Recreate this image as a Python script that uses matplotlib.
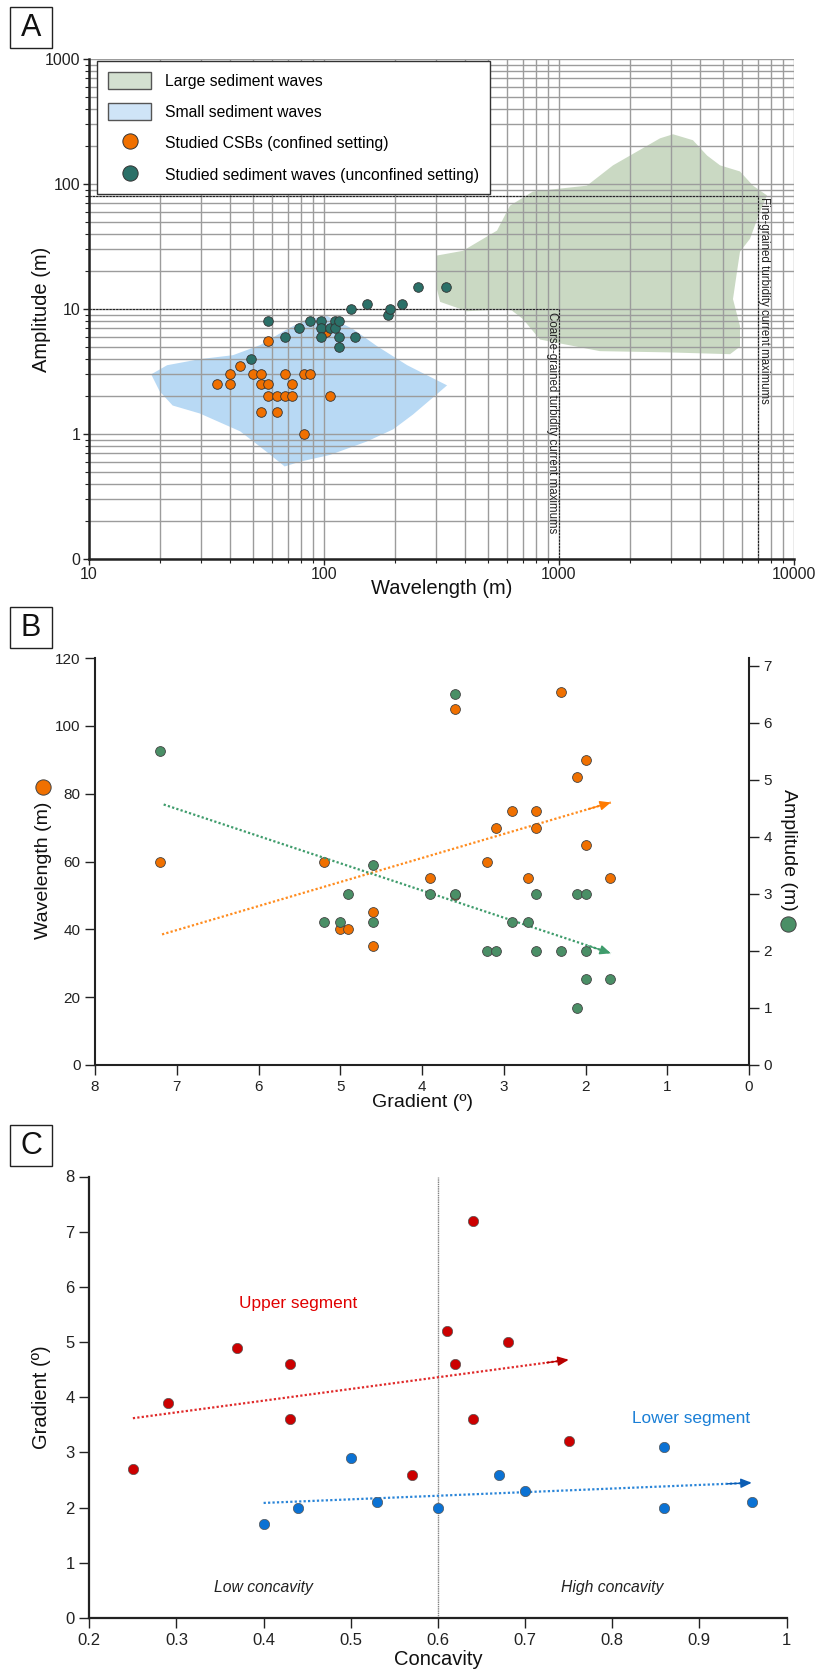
import matplotlib
matplotlib.use('Agg')
import matplotlib.pyplot as plt
import numpy as np
from matplotlib.patches import Polygon, Patch, Rectangle
from matplotlib.lines import Line2D
from matplotlib.ticker import FixedLocator, NullFormatter

plt.rcParams['font.family'] = ['Liberation Sans', 'DejaVu Sans']

# ---------------- panel A data (wavelength m, amplitude m) ----------------
large_wl = [300, 390, 545, 618, 774, 1315, 1698, 2692, 3056, 3715, 4266, 4845, 5891, 6691,
            7678, 7161, 6500, 5891, 5718, 5500, 5891, 5891, 5346, 2884, 1493, 830, 703, 618,
            406, 312, 300]
large_amp = [26.7, 29.2, 42.4, 67, 87, 97, 141, 232, 250, 224, 169, 141, 126, 97,
             81, 60, 36.5, 28.7, 19.8, 12.0, 7.3, 5.0, 4.35, 4.5, 4.6, 5.7, 8.3, 10,
             9.6, 11.4, 15.3]
small_wl = [18.4, 21.5, 29.6, 41, 53.5, 69.7, 84.7, 103, 133, 168, 226, 291, 334, 291, 239,
            197, 152, 106, 79, 68, 57, 44, 29.6, 22.7, 20]
small_amp = [3.0, 3.55, 3.97, 4.27, 5.14, 6.9, 8.3, 8.8, 6.9, 5.05, 3.55, 2.79, 2.45, 1.96, 1.43,
             1.09, 0.87, 0.68, 0.60, 0.55, 0.72, 1.05, 1.46, 1.69, 2.19]
csb_wl = [35, 40, 40, 44, 50, 54, 54, 54, 58, 58, 58, 63, 63, 68, 68, 73, 73, 82, 87, 82, 102, 106]
csb_amp = [2.5, 3, 2.5, 3.5, 3, 3, 2.5, 1.5, 5.5, 2.5, 2, 2, 1.5, 3, 2, 2.5, 2, 3, 3, 1, 6.6, 2]
sw_wl = [49, 58, 68, 78, 87, 97, 97, 97, 106, 111, 111, 116, 116, 116, 135, 130, 153, 187, 191,
         215, 250, 330]
sw_amp = [4, 8, 6, 7, 8, 8, 7, 6, 7, 8, 7, 8, 6, 5, 6, 10, 11, 9, 10, 11, 15, 15]
coarse_max = (1000, 10)
fine_max = (7000, 80)

# ---------------- panel B data (gradient deg) ----------------
b_wl_grad = [7.2, 5.2, 5.0, 4.9, 4.6, 4.6, 3.6, 2.3, 2.0, 2.1, 2.9, 2.6, 3.1, 2.6, 2.0, 3.2,
             3.9, 2.7, 1.7, 3.6]
b_wl = [60, 60, 40, 40, 45, 35, 105, 110, 90, 85, 75, 75, 70, 70, 65, 60, 55, 55, 55, 50]
b_amp_grad = [7.2, 4.6, 4.9, 5.2, 5.0, 4.6, 3.6, 3.9, 3.6, 2.6, 2.1, 2.0, 2.9, 2.7, 3.2, 3.1,
              2.6, 2.3, 2.0, 2.0, 1.7, 2.1]
b_amp = [5.5, 3.5, 3.0, 2.5, 2.5, 2.5, 6.5, 3.0, 3.0, 3.0, 3.0, 3.0, 2.5, 2.5, 2.0, 2.0,
         2.0, 2.0, 2.0, 1.5, 1.5, 1.0]
b_wl_trend = ([7.18, 1.69], [38.5, 77.4])
b_amp_trend = ([7.16, 1.69], [4.57, 1.96])

# ---------------- panel C data ----------------
up_conc = [0.25, 0.29, 0.37, 0.43, 0.43, 0.57, 0.64, 0.61, 0.68, 0.62, 0.64, 0.75]
up_grad = [2.7, 3.9, 4.9, 4.6, 3.6, 2.6, 7.2, 5.2, 5.0, 4.6, 3.6, 3.2]
lo_conc = [0.40, 0.44, 0.50, 0.53, 0.60, 0.67, 0.70, 0.86, 0.86, 0.96]
lo_grad = [1.7, 2.0, 2.9, 2.1, 2.0, 2.6, 2.3, 3.1, 2.0, 2.1]
up_trend = ([0.25, 0.75], [3.62, 4.68])
lo_trend = ([0.40, 0.96], [2.085, 2.45])

W, H = 815, 1673
orange = '#f07000'
teal = '#2b7068'
greenb = '#4a8f66'
red = '#cc0000'
blue = '#0b72d4'
dark = '#222222'

fig = plt.figure(figsize=(W / 100, H / 100), dpi=100)


def axes_px(l, t, r, b):
    return fig.add_axes([l / W, 1 - b / H, (r - l) / W, (b - t) / H])


def letter(txt, l, t, r, b):
    fig.add_artist(Rectangle((l / W, 1 - b / H), (r - l) / W, (b - t) / H,
                             transform=fig.transFigure, fill=False, ec='#222', lw=1))
    fig.text((l + r) / 2 / W, 1 - (t + b) / 2 / H, txt, ha='center', va='center',
             fontsize=22, color='#111')


def trend(ax, xs, ys, color, head):
    ax.plot(xs, ys, linestyle=(0, (1, 1)), color=color, lw=1.6, zorder=2)
    ax.annotate('', xy=(xs[1], ys[1]),
                xytext=(xs[1] - 0.05 * (xs[1] - xs[0]), ys[1] - 0.05 * (ys[1] - ys[0])),
                arrowprops=dict(arrowstyle='-|>,head_length=0.5,head_width=0.22', color=head,
                                lw=1, mutation_scale=13, shrinkA=0, shrinkB=0), zorder=2)


# ======================= A =======================
axA = axes_px(89, 59, 794, 559)
axA.set_xscale('log')
axA.set_yscale('log')
axA.set_xlim(10, 10000)
axA.set_ylim(0.1, 1000)
axA.set_axisbelow(True)
axA.grid(True, which='both', color='#9c9c9c', lw=1.0)
axA.add_patch(Polygon(np.column_stack([large_wl, large_amp]), closed=True, fc='#cad9c3',
                      ec='none', zorder=0.3))
axA.add_patch(Polygon(np.column_stack([small_wl, small_amp]), closed=True, fc='#b8d9f4',
                      ec='none', zorder=0.3))
axA.plot([10, coarse_max[0], coarse_max[0]], [coarse_max[1], coarse_max[1], 0.1],
         ls=(0, (2, 1)), color='#222', lw=0.8, zorder=2)
axA.plot([10, fine_max[0], fine_max[0]], [fine_max[1], fine_max[1], 0.1],
         ls=(0, (2, 1)), color='#222', lw=0.8, zorder=2)
axA.text(930, 9.4, 'Coarse-grained turbidity current maximums', rotation=270,
         ha='center', va='top', fontsize=8.3, color='#222')
axA.text(7450, 78, 'Fine-grained turbidity current maximums', rotation=270,
         ha='center', va='top', fontsize=8.3, color='#222')
axA.scatter(csb_wl, csb_amp, s=48, color=orange, edgecolors='#333', linewidths=0.6, zorder=3)
axA.scatter(sw_wl, sw_amp, s=48, color=teal, edgecolors='#333', linewidths=0.6, zorder=3)
for s in ['top', 'right']:
    axA.spines[s].set_visible(False)
for s in ['left', 'bottom']:
    axA.spines[s].set_linewidth(1.8)
    axA.spines[s].set_color(dark)
axA.yaxis.set_major_locator(FixedLocator([0.1, 1, 10, 100, 1000]))
axA.set_yticklabels(['0', '1', '10', '100', '1000'])
axA.xaxis.set_major_locator(FixedLocator([10, 100, 1000, 10000]))
axA.set_xticklabels(['10', '100', '1000', '10000'])
axA.tick_params(which='major', direction='out', length=4, width=1, pad=2, labelsize=11.5,
                colors=dark)
axA.tick_params(which='minor', direction='out', length=3, width=0.8, colors=dark)
axA.yaxis.set_minor_formatter(NullFormatter())
axA.xaxis.set_minor_formatter(NullFormatter())
axA.set_xlabel('Wavelength (m)', fontsize=14.5, color='#111')
axA.xaxis.set_label_coords(0.5, -0.06)
axA.xaxis.label.set_va('center')
axA.set_ylabel('Amplitude (m)', fontsize=14.5, color='#111')
axA.yaxis.set_label_coords(-0.067, 0.5)
axA.yaxis.label.set_va('center')

handles = [Patch(fc='#d3e0d0', ec='#555', lw=1, label='Large sediment waves'),
           Patch(fc='#cfe4f7', ec='#555', lw=1, label='Small sediment waves'),
           Line2D([], [], ls='none', marker='o', ms=11, mfc=orange, mec='#333', mew=0.7,
                  label='Studied CSBs (confined setting)'),
           Line2D([], [], ls='none', marker='o', ms=11, mfc=teal, mec='#333', mew=0.7,
                  label='Studied sediment waves (unconfined setting)')]
leg = axA.legend(handles=handles, loc='upper left', bbox_to_anchor=(0.012, 0.996),
                 borderaxespad=0, fontsize=11.3, frameon=True, fancybox=False,
                 framealpha=1, edgecolor='#333', handlelength=2.7, handleheight=1.25,
                 handletextpad=0.9, labelspacing=0.94, borderpad=0.7)
leg.get_frame().set_linewidth(1.0)
leg.set_zorder(5)
letter('A', 10, 7, 52, 48)

# ======================= B =======================
axB = axes_px(95, 658, 749, 1065)
axB.set_xlim(8, 0)
axB.set_ylim(0, 120)
axB2 = axB.twinx()
axB2.set_ylim(0, 7.14)
trend(axB, b_wl_trend[0], b_wl_trend[1], '#ff8c1f', '#ff7a00')
axB.scatter(b_wl_grad, b_wl, s=50, color=orange, edgecolors='#444', linewidths=0.6, zorder=3)
trend(axB2, b_amp_trend[0], b_amp_trend[1], '#3f9c6c', '#3f9c6c')
axB2.scatter(b_amp_grad, b_amp, s=50, color=greenb, edgecolors='#444', linewidths=0.6, zorder=3)
axB.set_xticks(np.arange(8, -1, -1))
axB.set_yticks(np.arange(0, 121, 20))
axB2.set_yticks(np.arange(0, 8, 1))
for a in (axB, axB2):
    a.spines['top'].set_visible(False)
    for s in a.spines.values():
        s.set_linewidth(1.5)
        s.set_color(dark)
    a.tick_params(direction='out', length=7, width=1, labelsize=11, colors=dark)
axB.spines['right'].set_visible(False)
axB2.spines['left'].set_visible(False)
axB2.spines['bottom'].set_visible(False)
axB.set_xlabel('Gradient (º)', fontsize=14, color='#111')
axB.xaxis.set_label_coords(0.5, -0.093)
axB.xaxis.label.set_va('center')
axB.set_ylabel('Wavelength (m)', fontsize=14, color='#111')
axB.yaxis.set_label_coords(-0.0795, 0.479)
axB.yaxis.label.set_va('center')
axB2.set_ylabel('Amplitude (m)', fontsize=14, color='#111', rotation=270)
axB2.yaxis.set_label_coords(1.061, 0.528)
axB2.yaxis.label.set_va('center')
axB.plot([-0.0795], [0.683], 'o', ms=11, mfc=orange, mec='#444', mew=0.7,
         transform=axB.transAxes, clip_on=False)
axB2.plot([1.0596], [0.346], 'o', ms=11, mfc=greenb, mec='#444', mew=0.7,
          transform=axB2.transAxes, clip_on=False)
letter('B', 10, 607, 52, 648)

# ======================= C =======================
axC = axes_px(89.3, 1176.5, 786.5, 1618)
axC.set_xlim(0.2, 1.0)
axC.set_ylim(0, 8)
axC.axvline(0.6, color='#808080', ls=(0, (1, 0.6)), lw=1.0, zorder=1)
trend(axC, up_trend[0], up_trend[1], '#e02a2a', '#b80000')
trend(axC, lo_trend[0], lo_trend[1], '#2a85d8', '#0c5db4')
axC.scatter(up_conc, up_grad, s=55, color=red, edgecolors='#555', linewidths=0.5, zorder=3)
axC.scatter(lo_conc, lo_grad, s=55, color=blue, edgecolors='#555', linewidths=0.5, zorder=3)
axC.text(0.44, 5.7, 'Upper segment', color='#e00000', fontsize=12.4, ha='center', va='center')
axC.text(0.89, 3.62, 'Lower segment', color='#1a7fd6', fontsize=12.4, ha='center', va='center')
axC.text(0.40, 0.56, 'Low concavity', style='italic', fontsize=11.3, color='#222',
         ha='center', va='center')
axC.text(0.80, 0.56, 'High concavity', style='italic', fontsize=11.3, color='#222',
         ha='center', va='center')
axC.set_xticks([0.2, 0.3, 0.4, 0.5, 0.6, 0.7, 0.8, 0.9, 1.0])
axC.set_xticklabels(['0.2', '0.3', '0.4', '0.5', '0.6', '0.7', '0.8', '0.9', '1'])
axC.set_yticks(np.arange(0, 9, 1))
for s in ['top', 'right']:
    axC.spines[s].set_visible(False)
for s in ['left', 'bottom']:
    axC.spines[s].set_linewidth(1.6)
    axC.spines[s].set_color(dark)
axC.tick_params(direction='out', length=7, width=1, labelsize=12, colors=dark)
axC.set_xlabel('Concavity', fontsize=14.5, color='#111')
axC.xaxis.set_label_coords(0.5, -0.095)
axC.xaxis.label.set_va('center')
axC.set_ylabel('Gradient (º)', fontsize=14.5, color='#111')
axC.yaxis.set_label_coords(-0.068, 0.5)
axC.yaxis.label.set_va('center')
letter('C', 10, 1125, 52, 1166)

fig.savefig('out.png', dpi=100)
